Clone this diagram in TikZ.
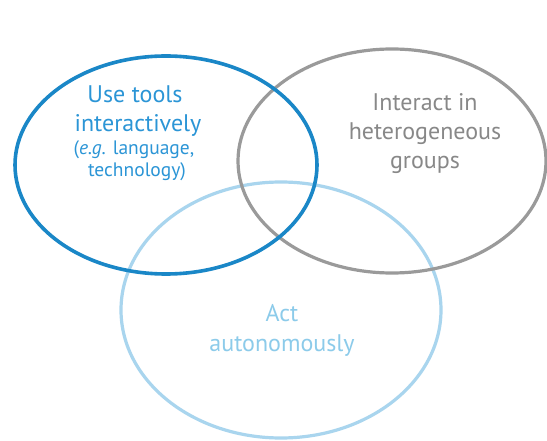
\documentclass[tikz,border=0pt]{standalone}
\usepackage{fontspec}
\setmainfont{PT Sans}
\definecolor{cblue}{HTML}{1A87C7}
\definecolor{cgray}{HTML}{9A9A9A}
\definecolor{clight}{HTML}{A9D5EE}
\definecolor{tblue}{HTML}{2B95D6}
\definecolor{tgray}{HTML}{888888}
\definecolor{tlight}{HTML}{8CCBEA}
\tikzset{
  ring/.style={line width=3.2pt},
  bigtxt/.style={anchor=base, inner sep=0pt, font=\fontsize{24}{28}\selectfont},
  smalltxt/.style={anchor=base, inner sep=0pt, font=\fontsize{19.5}{23}\selectfont},
}
\begin{document}
\begin{tikzpicture}[x=1pt,y=-1pt]
\useasboundingbox (0,0) rectangle (547,441);
\fill[white] (0,0) rectangle (547,441);
\draw[ring, clight] (281,310) ellipse [x radius=160pt, y radius=128pt];
\draw[ring, cgray] (392,161) ellipse [x radius=154pt, y radius=112pt];
\draw[ring, cblue, line width=3.6pt] (166,165) ellipse [x radius=151pt, y radius=109pt];
% blue label
\node[bigtxt, tblue] (u1) at (135,103) {Use tools};
\node[bigtxt, tblue] (u2) at (138,132) {interactively};
\node[smalltxt, tblue] (u3) at (134,155) {(\textit{e.g.} language,};
\node[smalltxt, tblue] (u4) at (137,177) {technology)};
% gray label
\node[bigtxt, tgray] (g1) at (425,111) {Interact in};
\node[bigtxt, tgray] (g2) at (425,140) {heterogeneous};
\node[bigtxt, tgray] (g3) at (425,169) {groups};
% light label
\node[bigtxt, tlight] (a1) at (282,322) {Act};
\node[bigtxt, tlight] (a2) at (282,352) {autonomously};
\end{tikzpicture}
\end{document}
